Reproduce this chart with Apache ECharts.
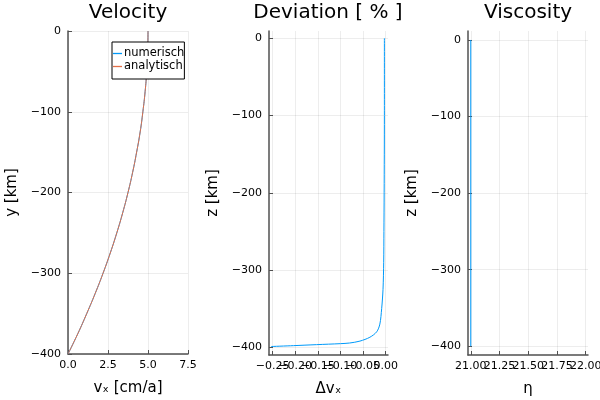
<!DOCTYPE html>
<html>
<head>
<meta charset="utf-8">
<script src="https://cdn.jsdelivr.net/npm/echarts@6/dist/echarts.min.js"></script>
<style>
  html, body { margin: 0; padding: 0; background: #fff; }
  #chart { width: 600px; height: 400px; }
</style>
</head>
<body>
<div id="chart"></div>
<script>
// depth [km] for the velocity profile
const depth = [0, -25, -50, -75, -100, -125, -150, -175, -200, -225, -250, -275, -300, -325, -350, -375, -400];
const vNum = [5.00, 4.98, 4.92, 4.82, 4.68, 4.51, 4.29, 4.04, 3.75, 3.42, 3.05, 2.64, 2.19, 1.70, 1.17, 0.61, 0.00];
const vAna = [5.00, 4.98, 4.92, 4.82, 4.68, 4.51, 4.29, 4.04, 3.75, 3.42, 3.05, 2.64, 2.19, 1.70, 1.17, 0.61, 0.00];

// deviation profile
const devDepth = [0, -100, -200, -250, -290, -325, -350, -370, -380, -387, -392, -394.5, -395.3, -396.6, -397.9, -399];
const devVal = [-0.003, -0.003, -0.0035, -0.004, -0.0045, -0.006, -0.009, -0.013, -0.02, -0.035, -0.057, -0.08, -0.10, -0.153, -0.204, -0.253];

// viscosity profile (log10)
const etaDepth = [0, -100, -200, -300, -400];
const etaVal = [21, 21, 21, 21, 21];

const yTicks = [-400, -300, -200, -100, 0];
const x1Ticks = [0, 2.5, 5, 7.5];
const x2Ticks = [-0.25, -0.20, -0.15, -0.10, -0.05, 0];
const x3Ticks = [21, 21.25, 21.5, 21.75, 22];

const blue = '#009AFA';
const orange = '#E36F47';
const axisCol = '#505050';
const font = 'DejaVu Sans';

function fmt(n) {
  return function (v) {
    const s = Math.abs(v).toFixed(n);
    return (v < 0 && parseFloat(s) !== 0 ? '\u2212' : '') + s;
  };
}

function pairs(xs, ys) {
  return xs.map((x, i) => [x, ys[i]]);
}

// showLabels false -> labels drawn by hand below (echarts drops overlapping ones)
function xAx(idx, min, max, ticks, dec, name, showLabels) {
  return {
    type: 'value', gridIndex: idx, min: min, max: max,
    name: name, nameLocation: 'middle', nameGap: 27,
    nameTextStyle: { fontFamily: font, fontSize: 15, color: '#000' },
    axisLine: { show: true, onZero: false, lineStyle: { color: axisCol, width: 1.5 } },
    axisTick: { show: true, inside: true, length: 4, customValues: ticks, lineStyle: { color: axisCol, width: 1 } },
    axisLabel: { show: showLabels, customValues: ticks, formatter: fmt(dec), margin: 6,
      fontFamily: font, fontSize: 11, color: '#000' },
    splitLine: { show: true, lineStyle: { color: 'rgba(0,0,0,0.1)', width: 0.7 } }
  };
}

function yAx(idx, min, max, name) {
  return {
    type: 'value', gridIndex: idx, min: min, max: max,
    name: name, nameLocation: 'middle', nameGap: 48, nameRotate: 90,
    nameTextStyle: { fontFamily: font, fontSize: 15, color: '#000' },
    axisLine: { show: true, onZero: false, lineStyle: { color: axisCol, width: 1.5 } },
    axisTick: { show: true, inside: true, length: 4, customValues: yTicks, lineStyle: { color: axisCol, width: 1 } },
    axisLabel: { customValues: yTicks, formatter: fmt(0), margin: 7,
      showMinLabel: true, showMaxLabel: true,
      fontFamily: font, fontSize: 11, color: '#000' },
    splitLine: { show: true, lineStyle: { color: 'rgba(0,0,0,0.1)', width: 0.7 } }
  };
}

const chart = echarts.init(document.getElementById('chart'), null, { renderer: 'canvas' });

const option = {
  backgroundColor: '#ffffff',
  animation: false,
  title: [
    { text: 'Velocity', left: 128, top: 3, textAlign: 'center' },
    { text: 'Deviation [ % ]', left: 328, top: 3, textAlign: 'center' },
    { text: 'Viscosity', left: 528, top: 3, textAlign: 'center' }
  ].map(t => Object.assign(t, { padding: 0, textStyle: { fontFamily: font, fontSize: 20, fontWeight: 'normal', color: '#000' } })),
  legend: {
    data: ['numerisch', 'analytisch'],
    orient: 'vertical', left: 112, top: 42,
    icon: 'rect', itemWidth: 9, itemHeight: 1.3, itemGap: 0,
    padding: [5, 0, 6, 1],
    borderColor: '#000', borderWidth: 1, backgroundColor: '#fff',
    textStyle: { fontFamily: font, fontSize: 11.5, color: '#000', lineHeight: 13, padding: [0, 0, 0, -3] }
  },
  grid: [
    { left: 68, top: 31, width: 120, height: 323, outerBoundsMode: 'none' },
    { left: 269, top: 31, width: 119, height: 324, outerBoundsMode: 'none' },
    { left: 468, top: 31, width: 120, height: 324, outerBoundsMode: 'none' }
  ],
  xAxis: [
    xAx(0, 0, 7.5, x1Ticks, 1, 'v\u2093 [cm/a]', true),
    xAx(1, -0.258, 0.005, x2Ticks, 2, '\u0394v\u2093', false),
    xAx(2, 20.976, 22.02, x3Ticks, 2, '\u03b7', false)
  ],
  yAxis: [
    yAx(0, -400, 0, 'y [km]'),
    yAx(1, -410, 9.4, 'z [km]'),
    yAx(2, -411.4, 11.7, 'z [km]')
  ],
  series: [
    { name: 'numerisch', type: 'line', xAxisIndex: 0, yAxisIndex: 0, data: pairs(vNum, depth),
      symbol: 'none', smooth: true, lineStyle: { color: blue, width: 1 }, itemStyle: { color: blue } },
    { name: 'analytisch', type: 'line', xAxisIndex: 0, yAxisIndex: 0, data: pairs(vAna, depth),
      symbol: 'none', smooth: true, lineStyle: { color: orange, width: 1 }, itemStyle: { color: orange } },
    { name: 'dev', type: 'line', xAxisIndex: 1, yAxisIndex: 1, data: pairs(devVal, devDepth),
      symbol: 'none', smooth: 0.3, lineStyle: { color: blue, width: 1 } },
    { name: 'eta', type: 'line', xAxisIndex: 2, yAxisIndex: 2, data: pairs(etaVal, etaDepth),
      symbol: 'none', lineStyle: { color: blue, width: 1 } }
  ]
};

chart.setOption(option);

// overlapping tick labels, like the original, placed through the axis scale
const extra = [];
[[1, x2Ticks, 2], [2, x3Ticks, 2]].forEach(function (a) {
  const yPix = chart.convertToPixel({ yAxisIndex: a[0] }, a[0] === 1 ? -410 : -411.4);
  a[1].forEach(function (v) {
    extra.push({
      type: 'text',
      x: chart.convertToPixel({ xAxisIndex: a[0] }, v),
      y: yPix + 6,
      silent: true,
      style: { text: fmt(a[2])(v), fill: '#000', font: '11px "DejaVu Sans"', align: 'center', verticalAlign: 'top' }
    });
  });
});
chart.setOption({ graphic: extra });
</script>
</body>
</html>
